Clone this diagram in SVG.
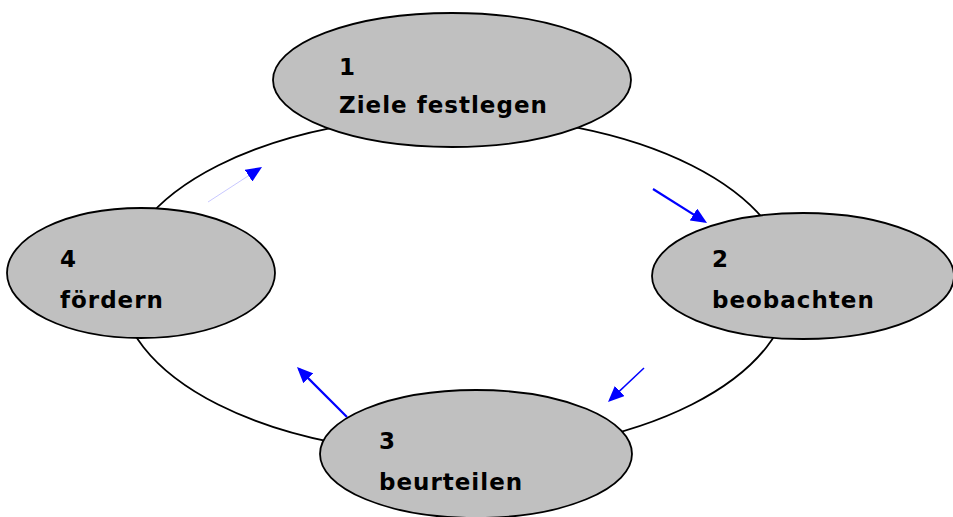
<svg xmlns="http://www.w3.org/2000/svg" width="953" height="517" viewBox="0 0 953 517">
<style>
.node{fill:#c0c0c0;stroke:#000;stroke-width:1.8}
.ring{fill:none;stroke:#000;stroke-width:1.8}
.lbl{font-family:"DejaVu Sans",Verdana,sans-serif;font-weight:bold;font-size:23px;letter-spacing:1px;fill:#000}
.arr{stroke:#0000ff;fill:none;marker-end:url(#ah)}
</style>
<defs>
<marker id="ah" markerUnits="userSpaceOnUse" markerWidth="17" markerHeight="14" refX="13" refY="7" orient="auto">
<path d="M0,0 L16,7 L0,14 z" fill="#0000ff"/>
</marker>
</defs>
<rect width="953" height="517" fill="#fff"/>
<g id="cycle">
<ellipse class="ring" cx="455" cy="285" rx="335" ry="169"/>
</g>
<g id="connectors">
<line class="arr" x1="208" y1="202" x2="259.5" y2="168.6" style="stroke:#c8c8ff;stroke-width:1"/>
<line class="arr" x1="653" y1="189" x2="704.5" y2="221.4" stroke-width="2.2"/>
<line class="arr" x1="644" y1="368" x2="610.2" y2="399.9" stroke-width="1.5"/>
<line class="arr" x1="347" y1="417" x2="299.1" y2="369.1" stroke-width="2.2"/>
</g>
<g id="node1">
<ellipse class="node" cx="452" cy="80" rx="179" ry="67"/>
<text class="lbl" x="339" y="75">1</text>
<text class="lbl" x="339" y="113">Ziele festlegen</text>
</g>
<g id="node2">
<ellipse class="node" cx="803" cy="276" rx="151" ry="63"/>
<text class="lbl" x="712" y="267">2</text>
<text class="lbl" x="712" y="308">beobachten</text>
</g>
<g id="node3">
<ellipse class="node" cx="476" cy="454" rx="156" ry="64"/>
<text class="lbl" x="379" y="449">3</text>
<text class="lbl" x="379" y="490">beurteilen</text>
</g>
<g id="node4">
<ellipse class="node" cx="141" cy="273" rx="134" ry="65"/>
<text class="lbl" x="60" y="267">4</text>
<text class="lbl" x="60" y="308">fördern</text>
</g>
</svg>
